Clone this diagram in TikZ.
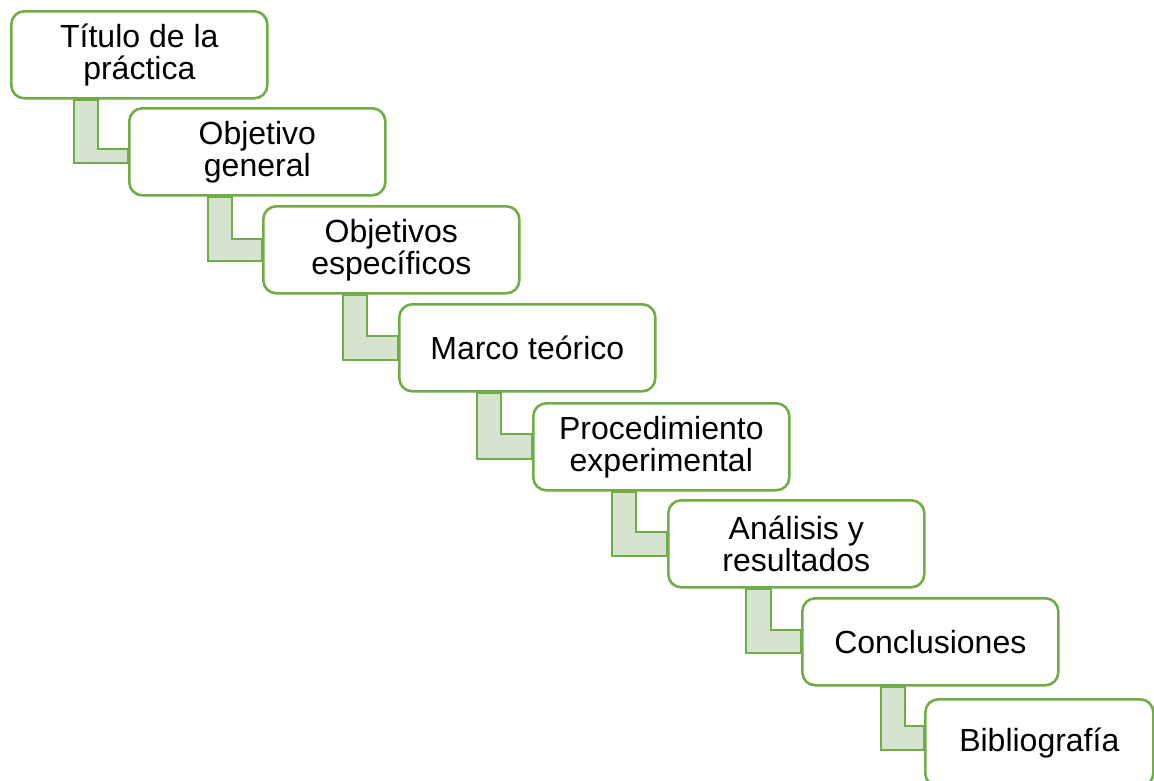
\documentclass[tikz,border=0pt]{standalone}
\usepackage{fontspec}
\setmainfont{Liberation Sans}
\usetikzlibrary{calc,backgrounds}
\definecolor{grn}{HTML}{70AD47}
\definecolor{bandfill}{HTML}{D6E3CF}
\tikzset{
  box/.style={draw=grn, line width=2.6pt, fill=white, rounded corners=13pt,
    minimum width=256pt, minimum height=87pt, inner sep=0pt, align=center,
    anchor=north west, font=\fontsize{32}{32}\selectfont},
  band/.style={draw=grn, line width=2pt, fill=bandfill}
}
\begin{document}
\begin{tikzpicture}[x=1pt,y=-1pt]
\useasboundingbox (0,0) rectangle (1154,780);
\node[box] (b1) at (10,10) {Título de la\\práctica};
\node[box] (b2) at (128,107) {Objetivo\\general};
\node[box] (b3) at (262,205) {Objetivos\\específicos};
\node[box] (b4) at (398,303) {Marco teórico};
\node[box] (b5) at (532,402) {Procedimiento\\experimental};
\node[box] (b6) at (667,499) {Análisis y\\resultados};
\node[box] (b7) at (801,597) {Conclusiones};
\node[box, minimum width=228pt] (b8) at (924,698) {Bibliografía};
\begin{scope}[on background layer]
\path[band] ($(b1.south west)+(64,0)$) |- ($(b2.north west)+(0,56)$) -- ($(b2.north west)+(0,42)$) -| ($(b1.south west)+(88,0)$) -- cycle;
\path[band] ($(b2.south west)+(80,0)$) |- ($(b3.north west)+(0,56)$) -- ($(b3.north west)+(0,34)$) -| ($(b2.south west)+(104,0)$) -- cycle;
\path[band] ($(b3.south west)+(81,0)$) |- ($(b4.north west)+(0,57)$) -- ($(b4.north west)+(0,33)$) -| ($(b3.south west)+(105,0)$) -- cycle;
\path[band] ($(b4.south west)+(79,0)$) |- ($(b5.north west)+(0,57)$) -- ($(b5.north west)+(0,32)$) -| ($(b4.south west)+(103,0)$) -- cycle;
\path[band] ($(b5.south west)+(80,0)$) |- ($(b6.north west)+(0,57)$) -- ($(b6.north west)+(0,33)$) -| ($(b5.south west)+(104,0)$) -- cycle;
\path[band] ($(b6.south west)+(79,0)$) |- ($(b7.north west)+(0,56)$) -- ($(b7.north west)+(0,33)$) -| ($(b6.south west)+(104,0)$) -- cycle;
\path[band] ($(b7.south west)+(80,0)$) |- ($(b8.north west)+(0,52)$) -- ($(b8.north west)+(0,28)$) -| ($(b7.south west)+(104,0)$) -- cycle;
\end{scope}
\end{tikzpicture}
\end{document}
